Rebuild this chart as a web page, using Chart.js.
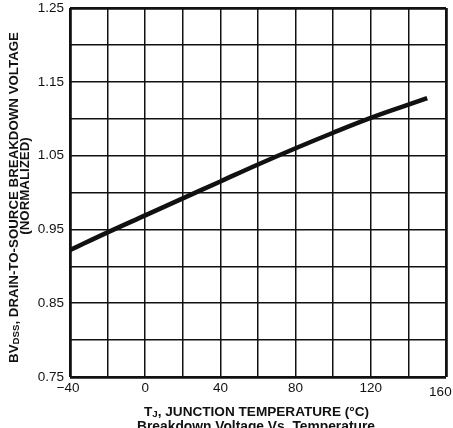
<!DOCTYPE html>
<html>
<head>
<meta charset="utf-8">
<script src="https://cdn.jsdelivr.net/npm/chart.js@4.4.1/dist/chart.umd.min.js"></script>
<style>
  html, body { margin: 0; padding: 0; background: #fff; }
  #wrap { width: 453px; height: 428px; position: relative; }
</style>
</head>
<body>
<div id="wrap"><canvas id="c" width="453" height="428"></canvas></div>
<script>
// ---- data ----
const temps  = [-40, -20, 0, 20, 40, 60, 80, 100, 120, 140, 150];
const bvNorm = [0.922, 0.946, 0.969, 0.992, 1.015, 1.038, 1.060, 1.081, 1.101, 1.119, 1.128];
const xTickLabels = [-40, 0, 40, 80, 120, 160];
const yTickLabels = [0.75, 0.85, 0.95, 1.05, 1.15, 1.25];
const yTitleParts = [{t: 'BV'}, {t: 'DSS', sub: true}, {t: ', DRAIN-TO-SOURCE BREAKDOWN VOLTAGE'}];
const yTitleLine2 = '(NORMALIZED)';
const xTitleParts = [{t: 'T'}, {t: 'J', sub: true}, {t: ', JUNCTION TEMPERATURE (°C)'}];
const chartTitle = 'Breakdown Voltage Vs. Temperature';

const FONT = '"Liberation Sans", Arial, Helvetica, sans-serif';
const INK = '#111';

function drawParts(ctx, parts, size, subSize) {
  let w = 0;
  parts.forEach(p => {
    ctx.font = 'bold ' + (p.sub ? subSize : size) + 'px ' + FONT;
    p.w = ctx.measureText(p.t).width;
    w += p.w;
  });
  let x = -w / 2;
  parts.forEach(p => {
    ctx.font = 'bold ' + (p.sub ? subSize : size) + 'px ' + FONT;
    ctx.fillText(p.t, x, p.sub ? 1 : 0);
    x += p.w;
  });
}

const titles = {
  id: 'titles',
  afterDraw(chart) {
    const ctx = chart.ctx;
    ctx.save();
    ctx.fillStyle = INK;
    ctx.textBaseline = 'alphabetic';
    ctx.textAlign = 'left';
    // y title, line 1
    ctx.save();
    ctx.translate(18.3, 197.5);
    ctx.rotate(-Math.PI / 2);
    drawParts(ctx, yTitleParts, 13.3, 9.7);
    ctx.restore();
    // y title, line 2
    ctx.save();
    ctx.translate(28.5, 186);
    ctx.rotate(-Math.PI / 2);
    drawParts(ctx, [{t: yTitleLine2}], 13.3, 9.7);
    ctx.restore();
    // x title
    ctx.save();
    ctx.translate(256.5, 415.5);
    drawParts(ctx, xTitleParts, 13.6, 9.8);
    ctx.restore();
    // chart caption
    ctx.save();
    ctx.translate(256, 431);
    drawParts(ctx, [{t: chartTitle}], 13.8, 10);
    ctx.restore();
    ctx.restore();
  }
};

function near(v, arr) { return arr.some(a => Math.abs(a - v) < 1e-6); }

const gridWidth = c => (c.index === 0 || c.index === 10) ? 2.8 : 1.5;

new Chart(document.getElementById('c'), {
  type: 'line',
  data: {
    datasets: [{
      data: temps.map((t, i) => ({x: t, y: bvNorm[i]})),
      borderColor: INK,
      borderWidth: 4.5,
      pointRadius: 0,
      tension: 0.4,
      fill: false
    }]
  },
  options: {
    responsive: false,
    animation: false,
    devicePixelRatio: 1,
    layout: { padding: { top: 8, right: 7, left: 0, bottom: 0 } },
    plugins: { legend: { display: false }, tooltip: { enabled: false }, title: { display: false } },
    scales: {
      x: {
        type: 'linear',
        min: -40, max: 160,
        border: { display: false },
        grid: { color: INK, lineWidth: gridWidth, drawTicks: false },
        ticks: {
          stepSize: 20,
          padding: 3,
          color: INK,
          maxRotation: 0,
          autoSkip: false,
          font: c => ({ family: FONT, size: 13.5, lineHeight: (c.tick && c.tick.value === 160) ? 1.8 : 1.2 }),
          callback: v => {
            if (!near(v, xTickLabels)) return '';
            if (v === 160) return '160   ';
            if (v < 0) return '\u2212' + Math.abs(v) + ' ';
            return String(v);
          }
        },
        afterFit: s => { s.height = 51; s.paddingLeft = 0; s.paddingRight = 0; }
      },
      y: {
        type: 'linear',
        min: 0.75, max: 1.25,
        border: { display: false },
        grid: { color: INK, lineWidth: gridWidth, drawTicks: false },
        ticks: {
          stepSize: 0.05,
          padding: 6,
          color: INK,
          autoSkip: false,
          font: { family: FONT, size: 13.5 },
          callback: v => near(v, yTickLabels) ? v.toFixed(2) : ''
        },
        afterFit: s => { s.width = 70; s.paddingTop = 0; s.paddingBottom = 0; }
      }
    }
  },
  plugins: [titles]
});
</script>
</body>
</html>
